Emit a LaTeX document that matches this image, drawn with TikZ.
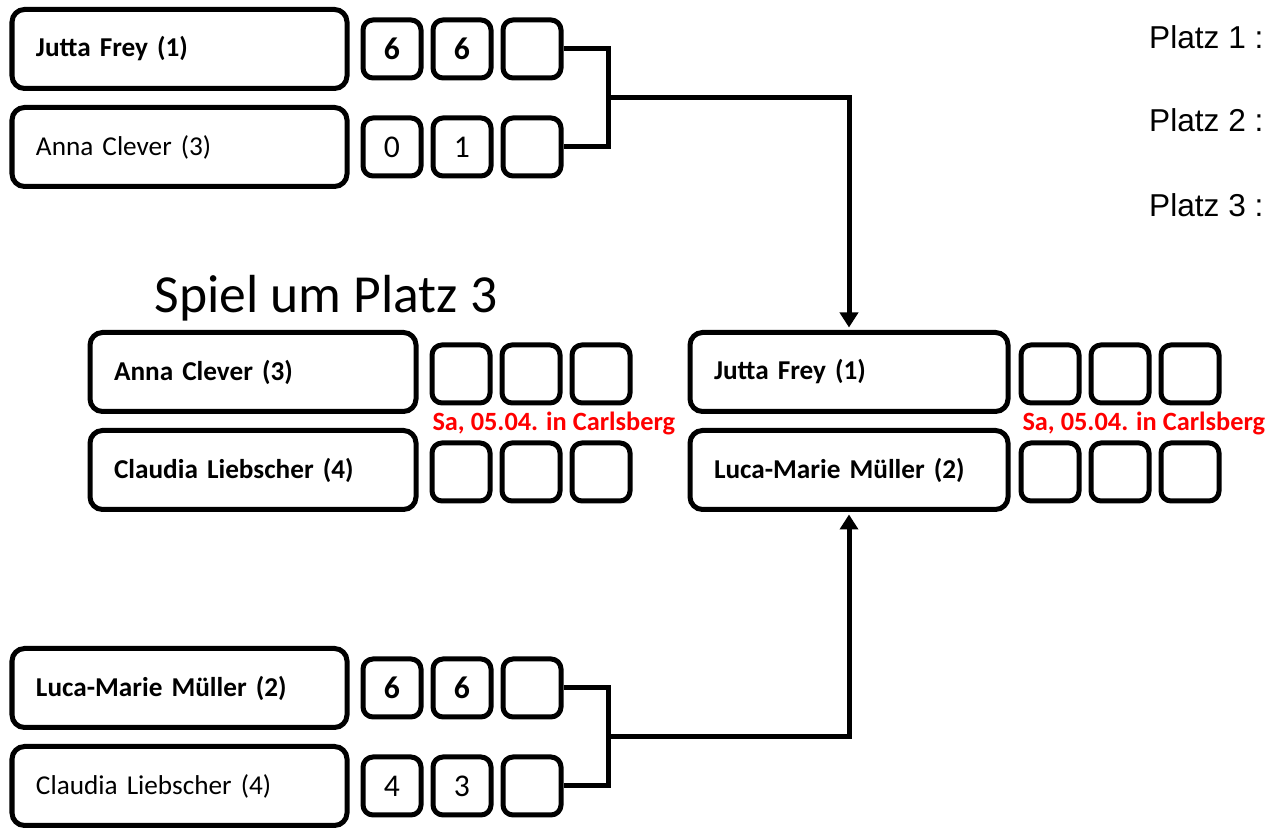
\documentclass[tikz,border=0pt]{standalone}
\usepackage{fontspec}
\setmainfont{Carlito}
\newfontfamily\platzfont{Liberation Sans}
\usetikzlibrary{arrows.meta}
\definecolor{datered}{RGB}{255,0,0}
\tikzset{
  namebox/.style={draw, rounded corners=0.25cm, minimum height=1.58cm, inner xsep=0.48cm,
    text width=#1, align=left, font=\fontsize{15.5}{19}\selectfont},
  scorebox/.style={draw, rounded corners=0.2cm, minimum width=1.16cm, minimum height=1.16cm,
    inner sep=0pt, font=\fontsize{18}{21}\selectfont},
  datum/.style={anchor=west, inner sep=0pt, text=datered, font=\bfseries\fontsize{15}{18}\selectfont},
  platz/.style={anchor=east, inner sep=0pt, font=\platzfont\fontsize{18}{22}\selectfont},
}

\begin{document}
\begin{tikzpicture}[>={Triangle[width=0.36cm,length=0.3cm]}, line width=0.1cm]
  \useasboundingbox (0,0) rectangle (25.42,-16.58);
  % Halbfinale oben
  \node[namebox=5.74cm] (hf1a) at (3.59,-0.98) {\textbf{Jutta Frey (1)}};
  \node[namebox=5.74cm] (hf1b) at (3.59,-2.94) {Anna Clever (3)};
  \node[scorebox] (hf1a1) at (7.84,-0.98) {\textbf{6}};
  \node[scorebox] (hf1a2) at (9.24,-0.98) {\textbf{6}};
  \node[scorebox] (hf1a3) at (10.64,-0.98) {};
  \node[scorebox] (hf1b1) at (7.84,-2.94) {0};
  \node[scorebox] (hf1b2) at (9.24,-2.94) {1};
  \node[scorebox] (hf1b3) at (10.64,-2.94) {};
  % Halbfinale unten
  \node[namebox=5.74cm] (hf2a) at (3.59,-13.76) {\textbf{Luca-Marie Müller (2)}};
  \node[namebox=5.74cm] (hf2b) at (3.59,-15.72) {Claudia Liebscher (4)};
  \node[scorebox] (hf2a1) at (7.84,-13.76) {\textbf{6}};
  \node[scorebox] (hf2a2) at (9.24,-13.76) {\textbf{6}};
  \node[scorebox] (hf2a3) at (10.64,-13.76) {};
  \node[scorebox] (hf2b1) at (7.84,-15.72) {4};
  \node[scorebox] (hf2b2) at (9.24,-15.72) {3};
  \node[scorebox] (hf2b3) at (10.64,-15.72) {};
  % Spiel um Platz 3
  \node[anchor=base, inner sep=0pt, font=\fontsize{30.5}{36}\selectfont] (titel) at (6.52,-6.26) {Spiel um Platz 3};
  \node[namebox=5.56cm] (p3a) at (5.06,-7.44) {\textbf{Anna Clever (3)}};
  \node[namebox=5.56cm] (p3b) at (5.06,-9.40) {\textbf{Claudia Liebscher (4)}};
  \node[scorebox] (p3a1) at (9.22,-7.48) {};
  \node[scorebox] (p3a2) at (10.62,-7.48) {};
  \node[scorebox] (p3a3) at (12.02,-7.48) {};
  \node[scorebox] (p3b1) at (9.22,-9.44) {};
  \node[scorebox] (p3b2) at (10.62,-9.44) {};
  \node[scorebox] (p3b3) at (12.02,-9.44) {};
  \node[datum] (d3) at (8.6,-8.46) {Sa, 05.04. in Carlsberg};
  % Finale
  \node[namebox=5.40cm] (f1) at (16.98,-7.44) {\textbf{Jutta Frey (1)}};
  \node[namebox=5.40cm] (f2) at (16.98,-9.40) {\textbf{Luca-Marie Müller (2)}};
  \node[scorebox] (f1s1) at (21.0,-7.48) {};
  \node[scorebox] (f1s2) at (22.4,-7.48) {};
  \node[scorebox] (f1s3) at (23.8,-7.48) {};
  \node[scorebox] (f2s1) at (21.0,-9.44) {};
  \node[scorebox] (f2s2) at (22.4,-9.44) {};
  \node[scorebox] (f2s3) at (23.8,-9.44) {};
  \node[datum] (df) at (20.4,-8.46) {Sa, 05.04. in Carlsberg};
  % Platzierungen
  \node[platz] (pl1) at (25.32,-0.74) {Platz 1 :};
  \node[platz] (pl2) at (25.32,-2.40) {Platz 2 :};
  \node[platz] (pl3) at (25.32,-4.10) {Platz 3 :};
  % Linien
  \coordinate (k1) at (12.16,-1.96);
  \coordinate (k2) at (12.16,-14.74);
  \draw (hf1a3.east) -| (k1) |- (hf1b3.east);
  \draw[->, shorten >=0.05cm] (k1) -| (f1.north);
  \draw (hf2a3.east) -| (k2) |- (hf2b3.east);
  \draw[->, shorten >=0.05cm] (k2) -| (f2.south);
\end{tikzpicture}
\end{document}
